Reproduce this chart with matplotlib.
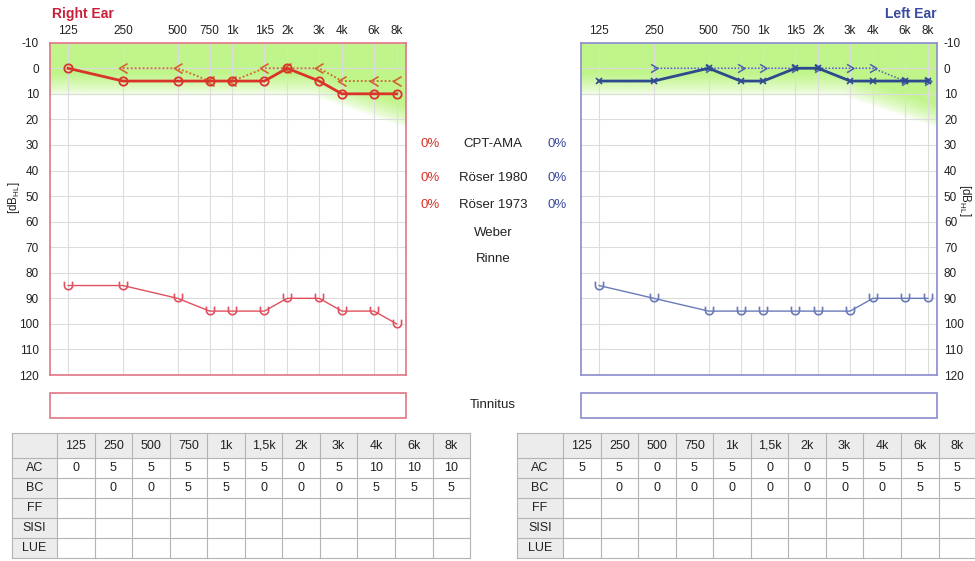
import numpy as np
import matplotlib
matplotlib.use("Agg")
import matplotlib.pyplot as plt
from matplotlib.path import Path
from matplotlib.ticker import FixedLocator, NullLocator, FixedFormatter

plt.rcParams['font.family'] = ['Liberation Sans', 'DejaVu Sans']

# ---------------- data ----------------
freqs = [125, 250, 500, 750, 1000, 1500, 2000, 3000, 4000, 6000, 8000]
freq_labels = ['125', '250', '500', '750', '1k', '1k5', '2k', '3k', '4k', '6k', '8k']
table_labels = ['125', '250', '500', '750', '1k', '1,5k', '2k', '3k', '4k', '6k', '8k']

right_ac = [0, 5, 5, 5, 5, 5, 0, 5, 10, 10, 10]
right_bc = [None, 0, 0, 5, 5, 0, 0, 0, 5, 5, 5]
right_ull = [85, 85, 90, 95, 95, 95, 90, 90, 95, 95, 100]

left_ac = [5, 5, 0, 5, 5, 0, 0, 5, 5, 5, 5]
left_bc = [None, 0, 0, 0, 0, 0, 0, 0, 0, 5, 5]
left_ull = [85, 90, 95, 95, 95, 95, 95, 95, 90, 90, 90]

row_names = ['AC', 'BC', 'FF', 'SISI', 'LUE']
metric_names = ['CPT-AMA', 'Röser 1980', 'Röser 1973']
right_metrics = ['0%', '0%', '0%']
left_metrics = ['0%', '0%', '0%']
extra_names = ['Weber', 'Rinne']

db_ticks = list(range(-10, 121, 10))

# ---------------- style ----------------
W, H = 975, 561
RED = '#d8342a'
RED_T = '#c8203a'
RED_ULL = '#e0505e'
RED_BC = '#d0662c'
RED_FRAME = '#e27484'
BLUE = '#2d4a8e'
BLUE_T = '#3a4a9c'
BLUE_ULL = '#6a7ab8'
BLUE_BC = '#4a64a8'
BLUE_FRAME = '#8a8ccc'
GRID = '#dcdcdc'
GREEN = np.array([192, 245, 138]) / 255.0

fig = plt.figure(figsize=(W / 100, H / 100), dpi=100)

def rect(x0, y0, x1, y1):
    return [x0 / W, 1 - y1 / H, (x1 - x0) / W, (y1 - y0) / H]

ov = fig.add_axes([0, 0, 1, 1])
ov.set_xlim(0, W)
ov.set_ylim(H, 0)
ov.axis('off')

# marker shapes
chev_l = Path([(0.5, 0.6), (-0.5, 0.0), (0.5, -0.6)], [Path.MOVETO, Path.LINETO, Path.LINETO])
chev_r = Path([(-0.5, 0.6), (0.5, 0.0), (-0.5, -0.6)], [Path.MOVETO, Path.LINETO, Path.LINETO])
t = np.linspace(np.pi, 2 * np.pi, 20)
u_verts = [(-0.5, 0.6)] + [(0.5 * np.cos(a), 0.1 + 0.5 * np.sin(a)) for a in t] + [(0.5, 0.6)]
u_path = Path(u_verts, [Path.MOVETO] + [Path.LINETO] * (len(u_verts) - 1))

def make_chart(x0, x1, frame, side):
    ax = fig.add_axes(rect(x0, 42.7, x1, 375))
    lo = 125 * 2 ** (-0.33)
    hi = 8000 * 2 ** (0.17)
    ax.set_xscale('log', base=2)
    ax.set_xlim(lo, hi)
    ax.set_ylim(120, -10)
    # green gradient
    nx, ny = 300, 260
    fx = np.exp(np.linspace(np.log(lo), np.log(hi), nx))
    dby = np.linspace(-10, 120, ny)
    b = np.where(fx <= 2800, 11.0,
                 11.0 + 11.0 * np.log2(np.maximum(fx, 2800) / 2800) / np.log2(8000 / 2800))
    alpha = np.clip((b[None, :] - dby[:, None]) / 9.0, 0, 1) ** 0.7
    img = np.zeros((ny, nx, 4))
    img[..., :3] = GREEN
    img[..., 3] = alpha
    ax.imshow(img, extent=(0, 1, 0, 1), transform=ax.transAxes, origin='upper',
              aspect='auto', zorder=0, interpolation='bilinear')
    ax.set_xlim(lo, hi)
    ax.set_ylim(120, -10)
    ax.xaxis.set_major_locator(FixedLocator(freqs))
    ax.xaxis.set_major_formatter(FixedFormatter(freq_labels))
    ax.xaxis.set_minor_locator(NullLocator())
    ax.set_yticks(db_ticks)
    ax.set_yticklabels([str(v) for v in db_ticks])
    ax.grid(True, color=GRID, lw=0.8, zorder=0.5)
    ax.set_axisbelow(True)
    ax.xaxis.tick_top()
    ax.tick_params(axis='x', length=0, pad=4, labelsize=8.5, colors='#222222')
    if side == 'left':
        ax.tick_params(axis='y', length=0, pad=8, labelsize=8.5, colors='#222222')
    else:
        ax.yaxis.tick_right()
        ax.tick_params(axis='y', length=0, pad=5, labelsize=8.5, colors='#222222')
    for s in ax.spines.values():
        s.set_color(frame)
        s.set_linewidth(1.2)
    return ax

def bc_xy(vals):
    xs = [f for f, v in zip(freqs, vals) if v is not None]
    ys = [v for v in vals if v is not None]
    return xs, ys

# Right ear
axr = make_chart(50, 406, RED_FRAME, 'left')
xs, ys = bc_xy(right_bc)
axr.plot(xs, ys, ls=(0, (1, 1.2)), color=RED_BC, lw=1.3, marker=chev_l, ms=7,
         mfc='none', mec=RED_BC, mew=1.2, zorder=3)
axr.plot(freqs, right_ac, color=RED, lw=2.0, marker='o', ms=6, mfc='none',
         mec=RED, mew=1.3, zorder=4)
axr.plot(freqs, right_ull, color=RED_ULL, lw=1.0, marker=u_path, ms=7, mfc='none',
         mec=RED_ULL, mew=1.2, zorder=4)

# Left ear
axl = make_chart(581, 937, BLUE_FRAME, 'right')
xs, ys = bc_xy(left_bc)
axl.plot(xs, ys, ls=(0, (1, 1.2)), color=BLUE_BC, lw=1.1, marker=chev_r, ms=6,
         mfc='none', mec=BLUE_BC, mew=1.1, zorder=3)
axl.plot(freqs, left_ac, color=BLUE, lw=2.0, marker='x', ms=5, mec=BLUE, mew=1.2, zorder=4)
axl.plot(freqs, left_ull, color=BLUE_ULL, lw=1.0, marker=u_path, ms=7, mfc='none',
         mec=BLUE_ULL, mew=1.2, zorder=4)

# Titles and units
ov.text(52, 14, 'Right Ear', color=RED_T, fontsize=10, fontweight='bold', ha='left', va='center')
ov.text(937, 14, 'Left Ear', color=BLUE_T, fontsize=10, fontweight='bold', ha='right', va='center')
ov.text(14, 198, r'[dB$_{\mathregular{HL}}$]', rotation=90, fontsize=8.3, ha='center', va='center', color='#222222')
ov.text(965, 200, r'[dB$_{\mathregular{HL}}$]', rotation=270, fontsize=8.3, ha='center', va='center', color='#222222')

# middle texts
ys_mid = [144, 178, 205]
for y, name, rv, lv in zip(ys_mid, metric_names, right_metrics, left_metrics):
    ov.text(430, y, rv, color=RED, fontsize=9.5, ha='center', va='center')
    ov.text(493, y, name, color='#222222', fontsize=9.5, ha='center', va='center')
    ov.text(557, y, lv, color=BLUE_T, fontsize=9.5, ha='center', va='center')
for y, name in zip([233, 259], extra_names):
    ov.text(493, y, name, color='#222222', fontsize=9.5, ha='center', va='center')
ov.text(493, 405, 'Tinnitus', color='#222222', fontsize=9.5, ha='center', va='center')

# tinnitus boxes
ov.add_patch(plt.Rectangle((50, 393), 356, 25, fill=False, ec=RED_FRAME, lw=1.2))
ov.add_patch(plt.Rectangle((581, 393), 356, 25, fill=False, ec=BLUE_FRAME, lw=1.2))

# tables
def draw_table(x_start, first_w, col_w, ac, bc):
    xe = [x_start, x_start + first_w] + [x_start + first_w + col_w * (i + 1) for i in range(len(freqs))]
    ye = [433, 458, 478, 498, 518, 538, 558]
    ov.add_patch(plt.Rectangle((xe[0], ye[0]), xe[-1] - xe[0], ye[1] - ye[0], fc='#ececec', ec='none', zorder=0))
    ov.add_patch(plt.Rectangle((xe[0], ye[1]), xe[1] - xe[0], ye[-1] - ye[1], fc='#ececec', ec='none', zorder=0))
    for x in xe:
        ov.plot([x, x], [ye[0], ye[-1]], color='#b4b4b4', lw=0.8, zorder=1)
    for y in ye:
        ov.plot([xe[0], xe[-1]], [y, y], color='#b4b4b4', lw=0.8, zorder=1)
    for i, lab in enumerate(table_labels):
        cx = (xe[i + 1] + xe[i + 2]) / 2
        ov.text(cx, (ye[0] + ye[1]) / 2, lab, fontsize=9, ha='center', va='center', color='#222222')
        if ac[i] is not None:
            ov.text(cx, (ye[1] + ye[2]) / 2, str(ac[i]), fontsize=9, ha='center', va='center', color='#222222')
        if bc[i] is not None:
            ov.text(cx, (ye[2] + ye[3]) / 2, str(bc[i]), fontsize=9, ha='center', va='center', color='#222222')
    for j, name in enumerate(row_names):
        ov.text((xe[0] + xe[1]) / 2, (ye[j + 1] + ye[j + 2]) / 2, name, fontsize=9,
                ha='center', va='center', color='#222222')

draw_table(12, 45, 37.55, right_ac, right_bc)
draw_table(517, 46, 37.55, left_ac, left_bc)

fig.savefig('out.png', dpi=100)
